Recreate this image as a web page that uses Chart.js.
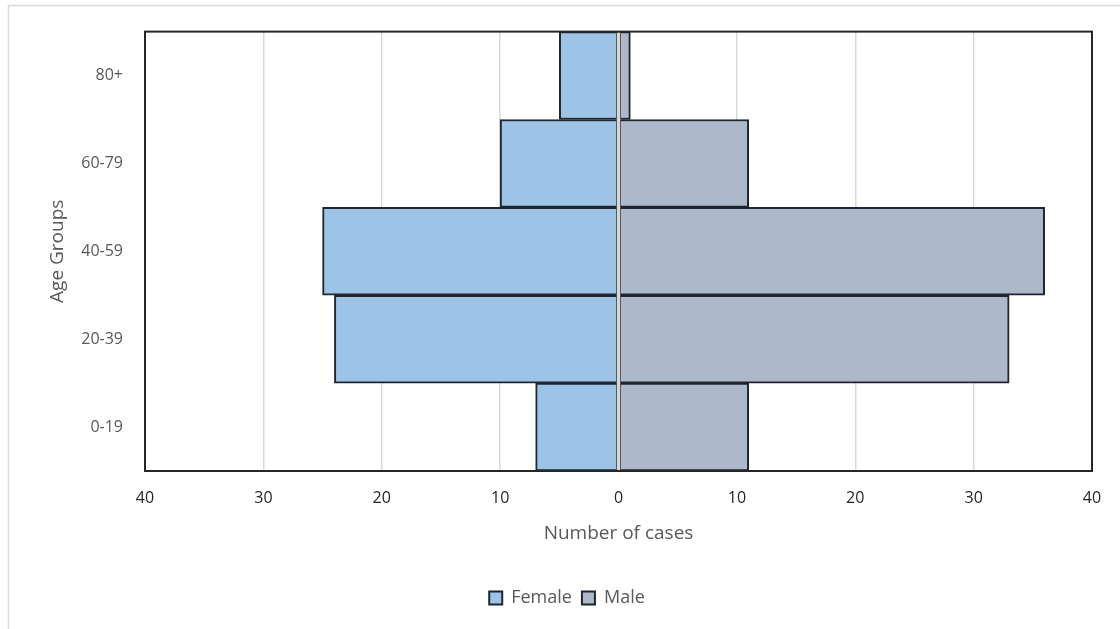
<!DOCTYPE html>
<html>
<head>
<meta charset="utf-8">
<script src="https://cdn.jsdelivr.net/npm/chart.js@4"></script>
<style>
  html, body { margin: 0; padding: 0; background: #fff; }
  #wrap { width: 1120px; height: 629px; position: relative; }
</style>
</head>
<body>
<div id="wrap"><canvas id="myChart" width="1120" height="629"></canvas></div>
<script>
// age groups, bottom to top
const ageGroups = ["0-19", "20-39", "40-59", "60-79", "80+"];

// female shown on the left as negative values
const femaleCases = [7, 24, 25, 10, 5];
const maleCases = [11, 33, 36, 11, 1];

const xTicks = [-40, -30, -20, -10, 0, 10, 20, 30, 40];

const textColor = "#595959";
const fontName = "'Open Sans', 'Liberation Sans', sans-serif";

// frame round the picture, box round the plot, grey zero line on top
const framePlugin = {
    id: "frame",
    beforeDraw(chart) {
        const c = chart.ctx;
        c.save();
        c.strokeStyle = "#d9d9d9";
        c.lineWidth = 1.5;
        c.strokeRect(8.5, 5.5, 1130, 640);
        c.restore();
    },
    afterDatasetsDraw(chart) {
        const c = chart.ctx;
        const a = chart.chartArea;
        const x0 = chart.scales.x.getPixelForValue(0);
        c.save();
        c.strokeStyle = "#d6d6d6";
        c.lineWidth = 3.5;
        c.beginPath();
        c.moveTo(x0, a.top + 1);
        c.lineTo(x0, a.bottom - 1);
        c.stroke();
        c.strokeStyle = "#262626";
        c.lineWidth = 2;
        c.strokeRect(a.left, a.top, a.right - a.left, a.bottom - a.top);
        c.restore();
    }
};

new Chart(document.getElementById("myChart"), {
    type: "bar",
    data: {
        labels: ageGroups,
        datasets: [
            {
                label: "Female",
                data: femaleCases.map(v => -v),
                backgroundColor: "#9dc3e6",
                borderColor: "#1f2630",
                borderWidth: 2,
                borderSkipped: false,
                barPercentage: 1,
                categoryPercentage: 1
            },
            {
                label: "Male",
                data: maleCases,
                backgroundColor: "#adb9ca",
                borderColor: "#1f2630",
                borderWidth: 2,
                borderSkipped: false,
                barPercentage: 1,
                categoryPercentage: 1
            }
        ]
    },
    options: {
        indexAxis: "y",
        responsive: false,
        animation: false,
        layout: {
            padding: { left: 42, right: 28, top: 31, bottom: 12 }
        },
        scales: {
            x: {
                stacked: true,
                min: -40,
                max: 40,
                afterBuildTicks(scale) {
                    scale.ticks = xTicks.map(v => ({ value: v }));
                },
                afterFit(scale) {
                    scale.height = 108;
                },
                grid: {
                    color: ctx => (Math.abs(ctx.tick.value) === 40 ? "rgba(0,0,0,0)" : "#d9d9d9"),
                    lineWidth: 1.5,
                    drawTicks: false
                },
                border: { display: false },
                ticks: {
                    color: "#262626",
                    padding: 18,
                    font: { family: fontName, size: 16 },
                    callback: v => Math.abs(v)
                },
                title: {
                    display: true,
                    text: "Number of cases",
                    color: textColor,
                    font: { family: fontName, size: 19 },
                    padding: { top: 1, bottom: 34 }
                }
            },
            y: {
                stacked: true,
                reverse: true,
                afterFit(scale) {
                    scale.width = 103;
                },
                grid: { display: false, drawTicks: false },
                border: { display: false },
                ticks: {
                    color: textColor,
                    padding: 22,
                    font: { family: fontName, size: 16 }
                },
                title: {
                    display: true,
                    text: "Age Groups",
                    color: textColor,
                    font: { family: fontName, size: 19 },
                    padding: { bottom: 2 }
                }
            }
        },
        plugins: {
            legend: {
                position: "bottom",
                labels: {
                    color: textColor,
                    boxWidth: 13,
                    boxHeight: 13,
                    padding: 10,
                    font: { family: fontName, size: 18 }
                }
            },
            tooltip: { enabled: false }
        }
    },
    plugins: [framePlugin]
});
</script>
</body>
</html>
